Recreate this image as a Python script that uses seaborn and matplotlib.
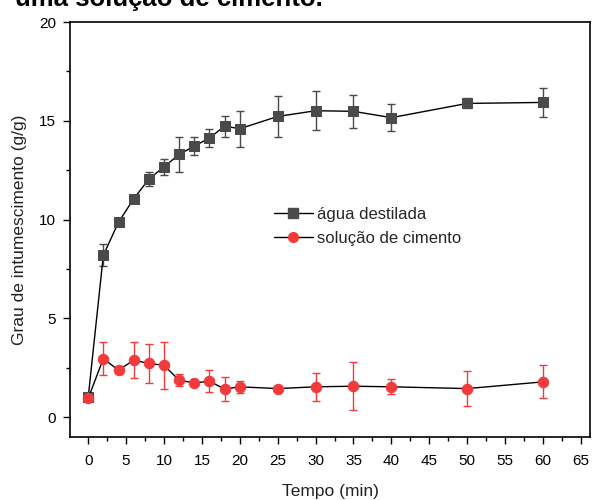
import matplotlib
matplotlib.use("Agg")
import matplotlib.pyplot as plt
import seaborn as sns
import pandas as pd
from matplotlib.lines import Line2D
from matplotlib.ticker import MultipleLocator

tempo = [0, 2, 4, 6, 8, 10, 12, 14, 16, 18, 20, 25, 30, 35, 40, 50, 60]
agua = [1.0, 8.2, 9.87, 11.05, 12.05, 12.67, 13.3, 13.72, 14.13, 14.73, 14.6, 15.22, 15.51, 15.48, 15.16, 15.88, 15.93]
agua_err = [0.1, 0.55, 0.15, 0.2, 0.35, 0.4, 0.9, 0.45, 0.47, 0.53, 0.9, 1.05, 1.0, 0.85, 0.67, 0.25, 0.72]
cimento = [0.95, 2.97, 2.38, 2.89, 2.72, 2.63, 1.87, 1.74, 1.82, 1.43, 1.54, 1.45, 1.54, 1.57, 1.54, 1.45, 1.79]
cimento_err = [0.1, 0.85, 0.2, 0.9, 1.0, 1.2, 0.3, 0.1, 0.55, 0.6, 0.3, 0.05, 0.7, 1.2, 0.37, 0.9, 0.84]

labels = ["água destilada", "solução de cimento"]
title = "uma solução de cimento."
xlabel = "Tempo (min)"
ylabel = "Grau de intumescimento (g/g)"

sns.set_theme(style="white")
plt.rcParams["font.family"] = ["Liberation Sans", "DejaVu Sans"]

grey = "#4a4a4a"
red = "#f03a3c"

df = pd.DataFrame({"tempo": tempo, "agua": agua, "cimento": cimento})

fig = plt.figure(figsize=(6, 5), dpi=100)
ax = fig.add_axes([70 / 600, 63 / 500, 520 / 600, 415 / 500])

ax.errorbar(tempo, agua, yerr=agua_err, fmt="none", ecolor=grey, elinewidth=1.0, capsize=3, capthick=1.0, zorder=2)
ax.errorbar(tempo, cimento, yerr=cimento_err, fmt="none", ecolor=red, elinewidth=1.0, capsize=3, capthick=1.0, zorder=2)

sns.lineplot(data=df, x="tempo", y="agua", ax=ax, color="black", linewidth=1.0,
             marker="s", markersize=6.5, markerfacecolor=grey, markeredgecolor=grey, zorder=3)
sns.lineplot(data=df, x="tempo", y="cimento", ax=ax, color="black", linewidth=1.0,
             marker="o", markersize=7.5, markerfacecolor=red, markeredgecolor=red, zorder=3)

ax.set_xlim(-2.4, 66.2)
ax.set_ylim(-1.0, 20.0)
ax.xaxis.set_major_locator(MultipleLocator(5))
ax.xaxis.set_minor_locator(MultipleLocator(2.5))
ax.yaxis.set_major_locator(MultipleLocator(5))
ax.yaxis.set_minor_locator(MultipleLocator(2.5))
ax.tick_params(which="major", direction="out", length=5, width=1, colors="black",
               labelsize=11, bottom=True, left=True, top=False, right=False, pad=7)
ax.tick_params(which="major", axis="y", pad=5)
ax.tick_params(which="minor", direction="out", length=3, width=1, colors="black",
               bottom=True, left=True, top=False, right=False)
for s in ax.spines.values():
    s.set_color("black")
    s.set_linewidth(1.2)

ax.set_xlabel(xlabel, fontsize=12.5, labelpad=12, color="#222222")
ax.set_ylabel(ylabel, fontsize=12.5, labelpad=9, color="#222222")

handles = [
    Line2D([], [], color="black", linewidth=1.0, marker="s", markersize=6.5,
           markerfacecolor=grey, markeredgecolor=grey),
    Line2D([], [], color="black", linewidth=1.0, marker="o", markersize=7,
           markerfacecolor=red, markeredgecolor=red),
]
ax.legend(handles, labels, loc="upper left", bbox_to_anchor=(0.38, 0.57), frameon=False,
          fontsize=12, handlelength=2.3, handletextpad=0.25, labelspacing=0.55,
          borderaxespad=0)

fig.text(15 / 600, 1 - 6 / 500, title, fontsize=18.5, fontweight="bold", va="baseline", ha="left", color="black")

fig.savefig("out.png", dpi=100)
